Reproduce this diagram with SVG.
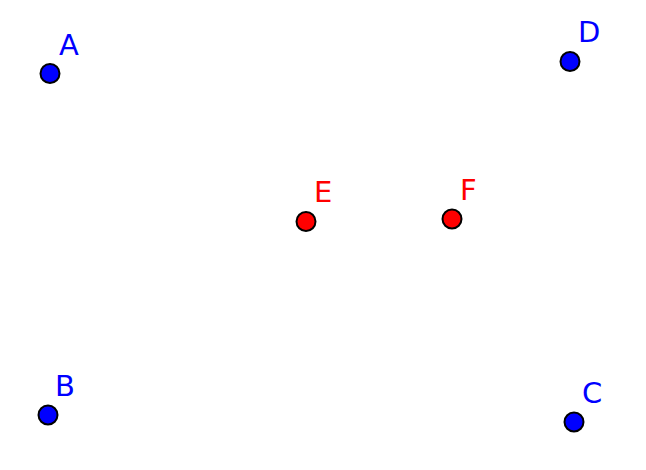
<svg xmlns="http://www.w3.org/2000/svg" width="646" height="470" viewBox="0 0 646 470">
<style>
.pt{stroke:#000;stroke-width:2}
.blue{fill:#0000ff}
.red{fill:#ff0000}
.lbl{font-family:"DejaVu Sans",sans-serif;font-size:29px}
</style>
<rect width="646" height="470" fill="#fff"/>
<g id="A"><circle class="pt blue" cx="50" cy="73.5" r="9.5"/><text class="lbl blue" x="59" y="55">A</text></g>
<g id="B"><circle class="pt blue" cx="48" cy="415" r="9.5"/><text class="lbl blue" x="55" y="396">B</text></g>
<g id="C"><circle class="pt blue" cx="574" cy="422" r="9.5"/><text class="lbl blue" x="582" y="403">C</text></g>
<g id="D"><circle class="pt blue" cx="570" cy="61.5" r="9.5"/><text class="lbl blue" x="578" y="42">D</text></g>
<g id="E"><circle class="pt red" cx="306" cy="221.5" r="9.5"/><text class="lbl red" x="314" y="202">E</text></g>
<g id="F"><circle class="pt red" cx="452" cy="219" r="9.5"/><text class="lbl red" x="460" y="200">F</text></g>
<g id="connectors"/>
</svg>
